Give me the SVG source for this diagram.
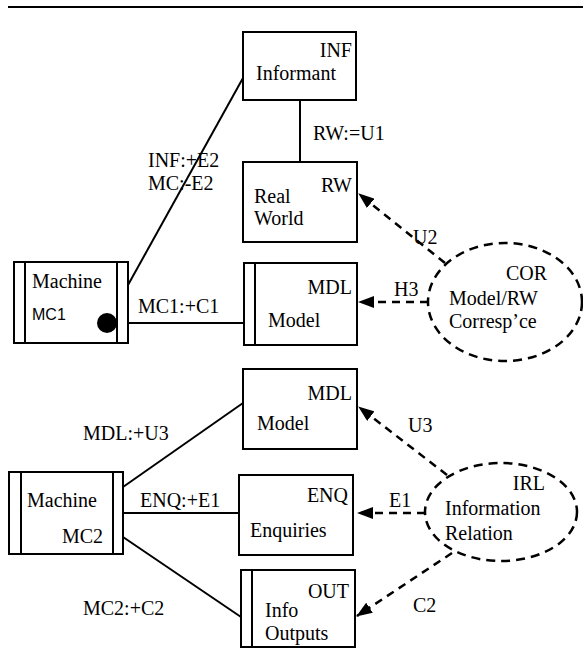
<svg xmlns="http://www.w3.org/2000/svg" width="583" height="651" viewBox="0 0 583 651" font-family="'Liberation Serif', 'Times New Roman', serif" font-size="20">
<style>
.t{font-family:'Liberation Serif',serif;font-size:20px;fill:#000}
.sans{font-family:'Liberation Sans',sans-serif;font-size:16px}
.end{text-anchor:end}
.box{fill:#fff;stroke:#000;stroke-width:2}
.bar{stroke:#000;stroke-width:2}
.ell{fill:none;stroke:#000;stroke-width:2.5;stroke-dasharray:9 6}
.ln{stroke:#000;stroke-width:2;fill:none}
.dash{stroke:#000;stroke-width:2.5;fill:none;stroke-dasharray:8 6;marker-end:url(#ah)}
</style>
<defs>
<marker id="ah" markerUnits="userSpaceOnUse" markerWidth="16" markerHeight="12" refX="15" refY="6" orient="auto">
<path d="M0,0 L16,6 L0,12 z" fill="#000"/>
</marker>
</defs>
<line x1="8" y1="7" x2="583" y2="7" stroke="#000" stroke-width="2"/>
<g id="connectors" class="t">
<line class="ln" x1="300" y1="100" x2="300" y2="162"/>
<text x="313" y="140">RW:=U1</text>
<line class="ln" x1="128" y1="285" x2="243" y2="78"/>
<text x="148" y="167">INF:+E2</text>
<text x="148" y="190">MC:-E2</text>
<line class="ln" x1="107" y1="323" x2="244" y2="323"/>
<text x="138" y="313">MC1:+C1</text>
<path class="dash" d="M428,302 L359,302"/>
<text x="394" y="296">H3</text>
<path class="dash" d="M445,263 L359,194"/>
<text x="413" y="244">U2</text>
<line class="ln" x1="123" y1="487" x2="243" y2="403"/>
<line class="ln" x1="123" y1="513" x2="239" y2="513"/>
<line class="ln" x1="123" y1="537" x2="241" y2="617"/>
<text x="83" y="440">MDL:+U3</text>
<text x="140" y="507">ENQ:+E1</text>
<text x="83" y="615">MC2:+C2</text>
<path class="dash" d="M447,475 L359,407"/>
<text x="408" y="432">U3</text>
<path class="dash" d="M425,513 L358,513"/>
<text x="389" y="507">E1</text>
<path class="dash" d="M452,553 L357,616"/>
<text x="413" y="612">C2</text>
</g>
<g id="INF" class="t">
<rect class="box" x="243" y="32" width="113" height="68"/>
<text class="end" x="352" y="57">INF</text>
<text x="256" y="80">Informant</text>
</g>
<g id="RW" class="t">
<rect class="box" x="243" y="162" width="114" height="80"/>
<text class="end" x="352" y="192">RW</text>
<text x="254" y="203">Real</text>
<text x="254" y="225">World</text>
</g>
<g id="MC1" class="t">
<rect class="box" x="14" y="262" width="114" height="81"/>
<line class="bar" x1="25" y1="262" x2="25" y2="343"/>
<line class="bar" x1="117" y1="262" x2="117" y2="343"/>
<text x="32" y="288">Machine</text>
<text class="sans" x="32" y="320">MC1</text>
<circle cx="107" cy="323" r="10" fill="#000"/>
</g>
<g id="MDL1" class="t">
<rect class="box" x="244" y="263" width="113" height="82"/>
<line class="bar" x1="255" y1="263" x2="255" y2="345"/>
<text class="end" x="352" y="294">MDL</text>
<text x="268" y="327">Model</text>
</g>
<g id="COR" class="t">
<ellipse class="ell" cx="505" cy="302" rx="77" ry="59"/>
<text class="end" x="547" y="280">COR</text>
<text x="449" y="305">Model/RW</text>
<text x="449" y="328">Corresp’ce</text>
</g>
<g id="MC2" class="t">
<rect class="box" x="9" y="472" width="114" height="82"/>
<line class="bar" x1="21" y1="472" x2="21" y2="554"/>
<line class="bar" x1="113" y1="472" x2="113" y2="554"/>
<text x="27" y="507">Machine</text>
<text class="end" x="103" y="543">MC2</text>
</g>
<g id="MDL2" class="t">
<rect class="box" x="243" y="369" width="114" height="80"/>
<text class="end" x="352" y="400">MDL</text>
<text x="257" y="430">Model</text>
</g>
<g id="ENQ" class="t">
<rect class="box" x="239" y="475" width="114" height="80"/>
<text class="end" x="348" y="502">ENQ</text>
<text x="250" y="537">Enquiries</text>
</g>
<g id="OUT" class="t">
<rect class="box" x="241" y="570" width="114" height="77"/>
<line class="bar" x1="252" y1="570" x2="252" y2="647"/>
<text class="end" x="349" y="598">OUT</text>
<text x="265" y="617">Info</text>
<text x="265" y="640">Outputs</text>
</g>
<g id="IRL" class="t">
<ellipse class="ell" cx="501" cy="512" rx="76" ry="49"/>
<text class="end" x="545" y="490">IRL</text>
<text x="445" y="515">Information</text>
<text x="445" y="540">Relation</text>
</g>
</svg>
